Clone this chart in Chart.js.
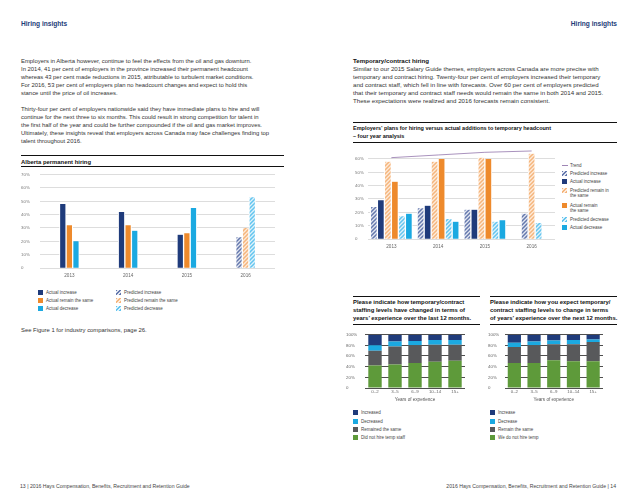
<!DOCTYPE html>
<html>
<head>
<meta charset="utf-8">
<script src="https://cdn.jsdelivr.net/npm/chart.js@4.4.0/dist/chart.umd.min.js"></script>
<style>
  html, body { margin: 0; padding: 0; background: #fff; }
  #page { position: relative; width: 638px; height: 493px; overflow: hidden; font-family: 'Liberation Sans', Arial, sans-serif; color: #333; }
  .abs { position: absolute; white-space: nowrap; }
  .head { font-weight: bold; color: #1d3c78; font-size: 6.6px; line-height: 8px; }
  .txt { font-size: 5.9px; line-height: 8px; }
  .txt-r { font-size: 6.15px; line-height: 8px; }
  .ttl { font-weight: bold; font-size: 5.5px; line-height: 8px; color: #111; }
  .ttl-s { font-weight: bold; font-size: 5.9px; line-height: 7.9px; color: #111; }
  .rule { position: absolute; height: 0; border-top: 1px solid #111; }
  .box { position: absolute; }
  .foot { font-size: 5.15px; line-height: 8px; color: #444; }
  .leg { position: absolute; white-space: nowrap; font-size: 4.5px; line-height: 5px; color: #444; }
  .sw { position: absolute; width: 5px; height: 5px; }
</style>
</head>
<body>
<div id="page">
  <!-- pagina esquerda -->
  <div class="abs head" style="left:21px; top:20px;">Hiring insights</div>
  <div class="abs txt" style="left:21px; top:56.5px;">
    Employers in Alberta however, continue to feel the effects from the oil and gas downturn.<br>
    In 2014, 41 per cent of employers in the province increased their permanent headcount<br>
    whereas 43 per cent made reductions in 2015, attributable to turbulent market conditions.<br>
    For 2016, 53 per cent of employers plan no headcount changes and expect to hold this<br>
    stance until the price of oil increases.
  </div>
  <div class="abs txt" style="left:21px; top:104.5px;">
    Thirty-four per cent of employers nationwide said they have immediate plans to hire and will<br>
    continue for the next three to six months. This could result in strong competition for talent in<br>
    the first half of the year and could be further compounded if the oil and gas market improves.<br>
    Ultimately, these insights reveal that employers across Canada may face challenges finding top<br>
    talent throughout 2016.
  </div>
  <div class="rule" style="left:21px; top:155px; width:263px;"></div>
  <div class="abs ttl-s" style="left:21px; top:157.7px; line-height:8px;">Alberta permanent hiring</div>
  <div class="rule" style="left:21px; top:166px; width:263px;"></div>
  <div class="box" style="left:21px; top:169px; width:256px; height:113px;"><canvas id="c-alberta"></canvas></div>
  <div class="abs txt" style="left:21px; top:326px;">See Figure 1 for industry comparisons, page 26.</div>
  <div class="abs foot" style="left:20px; top:482px;">13 | 2016 Hays Compensation, Benefits, Recruitment and Retention Guide</div>

  <!-- pagina direita -->
  <div class="abs head" style="right:21px; top:20px;">Hiring insights</div>
  <div class="abs txt-r" style="left:353px; top:56.5px;">
    <b style="color:#111;">Temporary/contract hiring</b><br>
    Similar to our 2015 Salary Guide themes, employers across Canada are more precise with<br>
    temporary and contract hiring. Twenty-four per cent of employers increased their temporary<br>
    and contract staff, which fell in line with forecasts. Over 60 per cent of employers predicted<br>
    that their temporary and contract staff needs would remain the same in both 2014 and 2015.<br>
    These expectations were realized and 2016 forecasts remain consistent.
  </div>
  <div class="rule" style="left:353px; top:122px; width:264px;"></div>
  <div class="abs ttl" style="left:353px; top:124.3px;">
    Employers’ plans for hiring versus actual additions to temporary headcount<br>
    – four year analysis
  </div>
  <div class="rule" style="left:353px; top:142px; width:264px;"></div>
  <div class="box" style="left:355px; top:140px; width:202px; height:111px;"><canvas id="c-temp"></canvas></div>

  <div class="rule" style="left:353px; top:296px; width:127px;"></div>
  <div class="abs ttl-s" style="left:353px; top:299.3px;">
    Please indicate how temporary/contract<br>
    staffing levels have changed in terms of<br>
    years’ experience over the last 12 months.
  </div>
  <div class="rule" style="left:353px; top:324px; width:127px;"></div>
  <div class="box" style="left:346px; top:329px; width:121px; height:75px;"><canvas id="c-past"></canvas></div>

  <div class="rule" style="left:490px; top:296px; width:127px;"></div>
  <div class="abs ttl-s" style="left:490px; top:299.3px;">
    Please indicate how you expect temporary/<br>
    contract staffing levels to change in terms<br>
    of years’ experience over the next 12 months.
  </div>
  <div class="rule" style="left:490px; top:324px; width:127px;"></div>
  <div class="box" style="left:488px; top:329px; width:117px; height:75px;"><canvas id="c-next"></canvas></div>

  <div class="abs foot" style="right:22px; top:482px;">2016 Hays Compensation, Benefits, Recruitment and Retention Guide | 14</div>
</div>

<script>
// Alberta permanent hiring (%)
const albertaYears = ['2013', '2014', '2015', '2016'];
const albActualIncrease = [48, 42, 25, null];
const albActualSame = [32, 32, 26, null];
const albActualDecrease = [20, 28, 45, null];
const albPredIncrease = [null, null, null, 23];
const albPredSame = [null, null, null, 30];
const albPredDecrease = [null, null, null, 53];

// Temporary headcount - four year analysis (%)
const tempYears = ['2013', '2014', '2015', '2016'];
const tempPredIncrease = [24, 23, 22, 19];
const tempActualIncrease = [29, 25, 22, null];
const tempPredSame = [58, 58, 61, 64];
const tempActualSame = [43, 60, 60, null];
const tempPredDecrease = [17, 15, 13, 12];
const tempActualDecrease = [19, 13, 14, null];
const tempTrend = [61, 63, 65, 66];

// Years of experience - last 12 months (%)
const expGroups = ['0–2', '3–5', '6–9', '10–14', '15+'];
const pastNoTemp = [42, 44, 47, 49, 51];
const pastSame = [28, 34, 33, 32, 30];
const pastDecreased = [10, 9, 8, 9, 9];
const pastIncreased = [20, 13, 12, 10, 10];

// Years of experience - next 12 months (%)
const nextNoTemp = [47, 47, 52, 50, 50];
const nextSame = [30, 33, 30, 32, 36];
const nextDecrease = [8, 7, 7, 8, 5];
const nextIncrease = [15, 13, 11, 10, 9];

// Cores
const navy = '#1f3b7b';
const orange = '#ee8a2c';
const cyan = '#1ba9e1';
const gray = '#58595b';
const green = '#5e9a3a';
const purple = '#9f86b5';
const hatchIncrease = ['#6478ad', '#e3e7f1'];
const hatchSame = ['#f5b57c', '#fdebdb'];
const hatchDecrease = ['#63c5ef', '#dff2fb'];

const family = "'Liberation Sans', Arial, sans-serif";
Chart.defaults.font.family = family;
Chart.defaults.color = '#666';

// Padrao listrado para as barras previstas
function hatch(colors) {
    const c = document.createElement('canvas');
    c.width = 4;
    c.height = 4;
    const g = c.getContext('2d');
    g.fillStyle = colors[1];
    g.fillRect(0, 0, 4, 4);
    g.strokeStyle = colors[0];
    g.lineWidth = 1.5;
    g.beginPath();
    g.moveTo(0, 4); g.lineTo(4, 0);
    g.moveTo(-1, 1); g.lineTo(1, -1);
    g.moveTo(3, 5); g.lineTo(5, 3);
    g.stroke();
    return g.createPattern(c, 'repeat');
}

function cssHatch(colors) {
    return `repeating-linear-gradient(135deg, ${colors[0]} 0 1.3px, ${colors[1]} 1.3px 2.8px)`;
}

// Legenda em HTML
const page = document.getElementById('page');
function legendItem(x, y, swatch, text, textX) {
    const sw = document.createElement('div');
    sw.className = 'sw';
    sw.style.left = x + 'px';
    sw.style.top = (y - 2.5) + 'px';
    sw.style.background = swatch;
    page.appendChild(sw);
    const t = document.createElement('div');
    t.className = 'leg';
    t.style.left = textX + 'px';
    t.style.top = (y - 2.5) + 'px';
    t.innerHTML = text;
    page.appendChild(t);
}

const hiddenUI = { legend: { display: false }, tooltip: { enabled: false } };

// Grafico 1: Alberta
const albLabels = ['Actual increase', 'Actual remain the same', 'Actual decrease',
    'Predicted increase', 'Predicted remain the same', 'Predicted decrease'];
new Chart(document.getElementById('c-alberta'), {
    type: 'bar',
    data: {
        labels: albertaYears,
        datasets: [
            { label: albLabels[0], data: albActualIncrease, backgroundColor: navy },
            { label: albLabels[1], data: albActualSame, backgroundColor: orange },
            { label: albLabels[2], data: albActualDecrease, backgroundColor: cyan },
            { label: albLabels[3], data: albPredIncrease, backgroundColor: hatch(hatchIncrease) },
            { label: albLabels[4], data: albPredSame, backgroundColor: hatch(hatchSame) },
            { label: albLabels[5], data: albPredDecrease, backgroundColor: hatch(hatchDecrease) }
        ]
    },
    options: {
        responsive: true,
        maintainAspectRatio: false,
        animation: false,
        layout: { padding: { top: 4, right: 2 } },
        datasets: {
            bar: {
                skipNull: true,
                barThickness: 6.6,
                borderWidth: { left: 1, right: 1, top: 0, bottom: 0 },
                borderColor: '#fff'
            }
        },
        plugins: hiddenUI,
        scales: {
            x: {
                grid: { display: false, drawTicks: false },
                border: { display: false },
                ticks: { font: { size: 4.6 }, color: '#666', padding: 5 },
                afterFit: s => { s.height = 14; }
            },
            y: {
                min: 0,
                max: 70,
                grid: { color: '#cfcfcf', lineWidth: 0.7, drawTicks: false },
                border: { display: false },
                ticks: {
                    stepSize: 10,
                    crossAlign: 'far',
                    font: { size: 4.4 },
                    color: '#777',
                    callback: v => v === 0 ? '0' : v + '%'
                },
                afterFit: s => { s.width = 19; }
            }
        }
    }
});
const albSwatches = [navy, orange, cyan, cssHatch(hatchIncrease), cssHatch(hatchSame), cssHatch(hatchDecrease)];
albLabels.forEach((lbl, i) => {
    const col = Math.floor(i / 3);
    const row = i % 3;
    legendItem(col ? 116 : 38, 292 + row * 8, albSwatches[i], lbl, col ? 124 : 46);
});

// Grafico 2: temporarios
const tempLabels = ['Predicted increase', 'Actual increase', 'Predicted remain in<br>the same',
    'Actual remain<br>the same', 'Predicted decrease', 'Actual decrease'];
new Chart(document.getElementById('c-temp'), {
    type: 'bar',
    data: {
        labels: tempYears,
        datasets: [
            { type: 'line', label: 'Trend', data: tempTrend, borderColor: purple, borderWidth: 0.9,
              pointRadius: 0, fill: false, order: -1 },
            { label: 'Predicted increase', data: tempPredIncrease, backgroundColor: hatch(hatchIncrease) },
            { label: 'Actual increase', data: tempActualIncrease, backgroundColor: navy },
            { label: 'Predicted remain in the same', data: tempPredSame, backgroundColor: hatch(hatchSame) },
            { label: 'Actual remain the same', data: tempActualSame, backgroundColor: orange },
            { label: 'Predicted decrease', data: tempPredDecrease, backgroundColor: hatch(hatchDecrease) },
            { label: 'Actual decrease', data: tempActualDecrease, backgroundColor: cyan }
        ]
    },
    options: {
        responsive: true,
        maintainAspectRatio: false,
        animation: false,
        layout: { padding: { top: 2, right: 2 } },
        datasets: {
            bar: {
                skipNull: true,
                barThickness: 7,
                borderWidth: { left: 1, right: 1, top: 0, bottom: 0 },
                borderColor: '#fff'
            }
        },
        plugins: hiddenUI,
        scales: {
            x: {
                grid: { display: false, drawTicks: false },
                border: { display: false },
                ticks: { font: { size: 4.6 }, color: '#666', padding: 4.5 },
                afterFit: s => { s.height = 12; }
            },
            y: {
                min: 0,
                max: 70,
                grid: { color: '#cfcfcf', lineWidth: 0.7, drawTicks: false },
                border: { display: false },
                afterBuildTicks: s => { s.ticks = s.ticks.filter(t => t.value <= 60); },
                ticks: {
                    stepSize: 10,
                    crossAlign: 'far',
                    font: { size: 4.4 },
                    color: '#777',
                    callback: v => v === 0 ? '0' : v + '%'
                },
                afterFit: s => { s.width = 13; }
            }
        }
    }
});
// linha tracejada do Trend
const trendLine = document.createElement('div');
trendLine.style.cssText = `position:absolute; left:562px; top:165px; width:6px; border-top:1px dashed ${purple};`;
page.appendChild(trendLine);
const trendTxt = document.createElement('div');
trendTxt.className = 'leg';
trendTxt.style.left = '570px';
trendTxt.style.top = '162.5px';
trendTxt.textContent = 'Trend';
page.appendChild(trendTxt);
const tempSwatches = [cssHatch(hatchIncrease), navy, cssHatch(hatchSame), orange, cssHatch(hatchDecrease), cyan];
const tempRows = [173, 181, 190.5, 205.5, 219, 227];
tempLabels.forEach((lbl, i) => legendItem(562, tempRows[i], tempSwatches[i], lbl, 570));

// Graficos 3 e 4: empilhados por anos de experiencia
function stackedChart(id, series, axisWidth) {
    const colors = [green, gray, cyan, navy];
    return new Chart(document.getElementById(id), {
        type: 'bar',
        data: {
            labels: expGroups,
            datasets: series.map((s, i) => ({ label: s.label, data: s.data, backgroundColor: colors[i] }))
        },
        options: {
            responsive: true,
            maintainAspectRatio: false,
            animation: false,
            layout: { padding: { top: 3.3, right: 2 } },
            datasets: { bar: { barPercentage: 0.67, categoryPercentage: 1 } },
            plugins: hiddenUI,
            scales: {
                x: {
                    stacked: true,
                    grid: { display: false, drawTicks: false },
                    border: { display: false },
                    ticks: { font: { size: 4.4 }, color: '#666', padding: 1.5 },
                    title: { display: true, text: 'Years of experience', font: { size: 4.6 }, color: '#555',
                             padding: { top: 0, bottom: 2 } },
                    afterFit: s => { s.height = 16; }
                },
                y: {
                    stacked: true,
                    min: 0,
                    max: 100,
                    grid: { color: '#222', lineWidth: 0.8, drawTicks: false },
                    border: { display: false },
                    ticks: {
                        stepSize: 20,
                        crossAlign: 'far',
                        font: { size: 4.4 },
                        color: '#666',
                        callback: v => v === 0 ? '0' : v + '%'
                    },
                    afterFit: s => { s.width = axisWidth; }
                }
            }
        }
    });
}

const pastLabels = ['Did not hire temp staff', 'Remained the same', 'Decreased', 'Increased'];
stackedChart('c-past', [
    { label: pastLabels[0], data: pastNoTemp },
    { label: pastLabels[1], data: pastSame },
    { label: pastLabels[2], data: pastDecreased },
    { label: pastLabels[3], data: pastIncreased }
], 19);

const nextLabels = ['We do not hire temp', 'Remain the same', 'Decrease', 'Increase'];
stackedChart('c-next', [
    { label: nextLabels[0], data: nextNoTemp },
    { label: nextLabels[1], data: nextSame },
    { label: nextLabels[2], data: nextDecrease },
    { label: nextLabels[3], data: nextIncrease }
], 16.5);

// legendas de cima para baixo: Increase, Decrease, Same, No temp
const stackColors = [navy, cyan, gray, green];
const stackRows = [412.7, 421, 429, 437];
[3, 2, 1, 0].forEach((k, r) => {
    legendItem(353, stackRows[r], stackColors[r], pastLabels[k], 361);
    legendItem(490, stackRows[r], stackColors[r], nextLabels[k], 498);
});
</script>
</body>
</html>
